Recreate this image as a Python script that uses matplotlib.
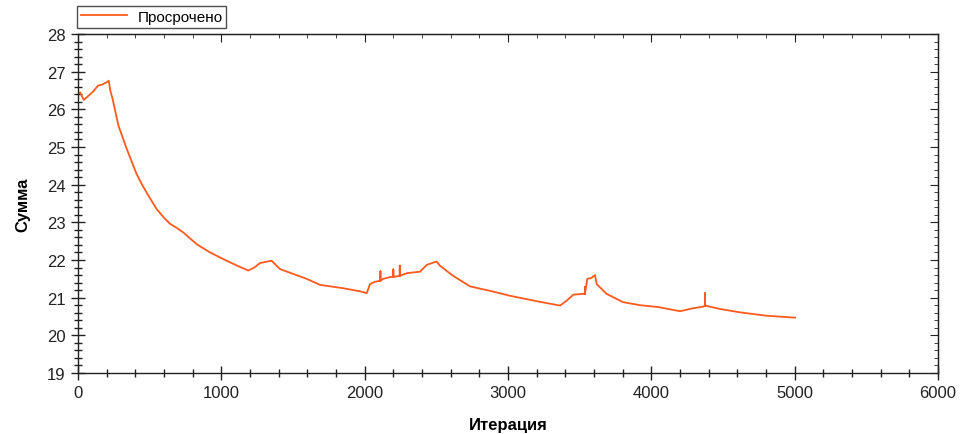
import matplotlib
matplotlib.use("Agg")
import matplotlib.pyplot as plt
from matplotlib.ticker import MultipleLocator

plt.rcParams['font.family'] = ['Liberation Sans', 'DejaVu Sans']

iterations = [0, 15, 40, 70, 100, 140, 170, 200, 215, 225, 240, 282, 340, 409, 450, 491, 549,
              600, 642, 690, 735, 828, 921, 1037, 1110, 1188, 1230, 1270, 1351, 1409, 1502,
              1595, 1688, 1851, 1967, 2015, 2037, 2070, 2110, 2110, 2110, 2130, 2180, 2200,
              2200, 2200, 2245, 2245, 2245, 2293, 2386, 2433, 2502, 2525, 2617, 2735, 2875,
              3014, 3223, 3363, 3409, 3456, 3520, 3537, 3537, 3537, 3553, 3580, 3607, 3619,
              3688, 3803, 3921, 4050, 4200, 4292, 4360, 4375, 4375, 4375, 4479, 4619,
              4805, 5002]
values = [26.42, 26.45, 26.25, 26.35, 26.45, 26.63, 26.66, 26.72, 26.76, 26.5, 26.3,
          25.57, 24.95, 24.28, 23.98, 23.71, 23.35, 23.12, 22.96, 22.85, 22.73, 22.42,
          22.2, 21.98, 21.85, 21.72, 21.8, 21.92, 21.98, 21.76, 21.63, 21.5, 21.34, 21.25,
          21.17, 21.12, 21.36, 21.42, 21.45, 21.7, 21.45, 21.5, 21.55, 21.55, 21.75, 21.55,
          21.58, 21.85, 21.58, 21.65, 21.69, 21.87, 21.96, 21.85, 21.58, 21.3, 21.18,
          21.05, 20.89, 20.79, 20.92, 21.08, 21.1, 21.1, 21.28, 21.1, 21.5, 21.52, 21.6,
          21.36, 21.1, 20.88, 20.8, 20.75, 20.64, 20.72, 20.76, 20.79, 21.12, 20.79, 20.7,
          20.61, 20.52, 20.47]

series_label = "Просрочено"
x_label = "Итерация"
y_label = "Сумма"

fig = plt.figure(figsize=(9.6, 4.35), dpi=100)
ax = fig.add_axes([78/960, 1-374/435, (938-78)/960, (374-35)/435])
line, = ax.plot(iterations, values, color='#FF5A1E', lw=1.3, label=series_label)

ax.set_xlim(0, 6000)
ax.set_ylim(19, 28)
ax.xaxis.set_major_locator(MultipleLocator(1000))
ax.xaxis.set_minor_locator(MultipleLocator(200))
ax.yaxis.set_major_locator(MultipleLocator(1))
ax.yaxis.set_minor_locator(MultipleLocator(0.2))
ax.tick_params(which='major', direction='inout', length=10, width=1, labelsize=12,
               colors='#222222', pad=4)
ax.tick_params(which='minor', direction='inout', length=6, width=1, colors='#222222')
for s in ax.spines.values():
    s.set_color('#222222')
    s.set_linewidth(1)

sx = ax.secondary_xaxis('top')
sx.xaxis.set_major_locator(MultipleLocator(1000))
sx.xaxis.set_minor_locator(MultipleLocator(200))
sx.tick_params(which='major', direction='in', length=6, colors='#222222', labeltop=False)
sx.tick_params(which='minor', direction='in', length=3, colors='#222222')
sx.set_xticklabels([])
sy = ax.secondary_yaxis('right')
sy.yaxis.set_major_locator(MultipleLocator(1))
sy.yaxis.set_minor_locator(MultipleLocator(0.2))
sy.tick_params(which='major', direction='in', length=6, colors='#222222', labelright=False)
sy.tick_params(which='minor', direction='in', length=3, colors='#222222')
sy.set_yticklabels([])

ax.set_xlabel(x_label, fontsize=12, fontweight='bold', labelpad=12)
ax.set_ylabel(y_label, fontsize=12, fontweight='bold', labelpad=12)

leg = fig.legend(handles=[line], loc='upper left', bbox_to_anchor=(77/960, 1-7/435),
                 fontsize=11, frameon=True, fancybox=False, edgecolor='#222222',
                 borderpad=0.25, handlelength=3.0, handletextpad=0.7, borderaxespad=0)
leg.get_frame().set_linewidth(1)

fig.savefig("out.png", dpi=100)
